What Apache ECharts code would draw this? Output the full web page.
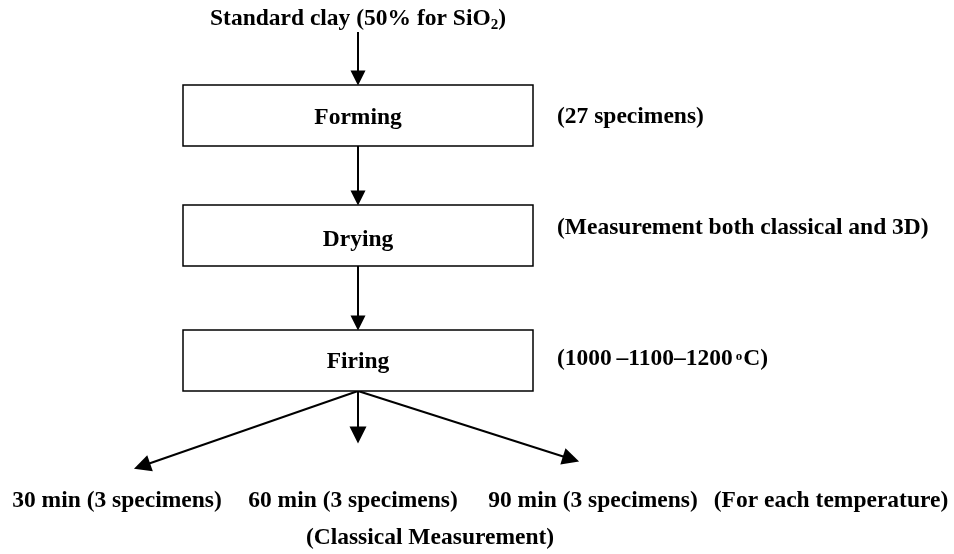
<!DOCTYPE html>
<html>
<head>
<meta charset="utf-8">
<script src="https://cdn.jsdelivr.net/npm/echarts@6/dist/echarts.min.js"></script>
<style>
  html, body { margin: 0; padding: 0; background: #fff; }
  #chart { width: 954px; height: 554px; }
</style>
</head>
<body>
<div id="chart"></div>
<script>
// flowchart content
const sourceLabel = "Standard clay (50% for SiO{sub|2})";
const stages = ["Forming", "Drying", "Firing"];
const stageNotes = ["(27 specimens)", "(Measurement both classical and 3D)", "(1000\u2009\u20131100\u20131200{deg|o}C)"];
const outcomes = ["30 min (3 specimens)", "60 min (3 specimens)", "90 min (3 specimens)"];
const outcomeNote = "(For each temperature)";
const footNote = "(Classical Measurement)";

// layout in page pixels (axes span the whole canvas)
const W = 954, H = 554;
const midX = 358;
const boxTop = [85, 205, 330];
const boxW = 350, boxH = 61;
const textY = [118, 240, 362];
const noteX = 557;
const noteY = [117, 228, 359];
const outcomeX = [117, 353, 593, 831];
const outcomeY = 501;
const footY = 538;
const branchTips = [[142, 466], [358, 435], [571, 459]];

const font = { fontFamily: "Liberation Serif", fontWeight: "bold", color: "#000", fontSize: 23.5, opacity: 1 };

const chart = echarts.init(document.getElementById("chart"));

// vertical arrows between stages, then the three branches from the last box
const arrows = [
    { coords: [[midX, 32], [midX, boxTop[0] - 7]] },
    { coords: [[midX, boxTop[0] + boxH], [midX, boxTop[1] - 7]] },
    { coords: [[midX, boxTop[1] + boxH], [midX, boxTop[2] - 7]] },
];
branchTips.forEach((tip) => {
    arrows.push({ coords: [[midX, boxTop[2] + boxH], tip], symbolSize: [15, 17] });
});

const textPoint = (name, x, y, align) => ({
    name,
    value: [x, y],
    label: { align: align || "center" },
});

const texts = [
    textPoint(sourceLabel, midX, 19),
    ...stageNotes.map((t, i) => textPoint(t, noteX, noteY[i], "left")),
    ...outcomes.map((t, i) => textPoint(t, outcomeX[i], outcomeY)),
    textPoint(outcomeNote, outcomeX[3], outcomeY),
    textPoint(footNote, 430, footY),
];

const option = {
    animation: false,
    backgroundColor: "#fff",
    grid: { left: 0, right: 0, top: 0, bottom: 0 },
    xAxis: { type: "value", min: 0, max: W, show: false },
    yAxis: { type: "value", min: 0, max: H, inverse: true, show: false },
    series: [
        {
            type: "lines",
            coordinateSystem: "cartesian2d",
            symbol: ["none", "triangle"],
            symbolSize: [13, 15],
            lineStyle: { color: "#000", width: 2, opacity: 1 },
            data: arrows,
            z: 1,
        },
        {
            type: "custom",
            data: stages.map((s, i) => [midX, boxTop[i], textY[i]]),
            renderItem: (params, api) => {
                const tl = api.coord([api.value(0) - boxW / 2, api.value(1)]);
                const br = api.coord([api.value(0) + boxW / 2, api.value(1) + boxH]);
                const c = api.coord([api.value(0), api.value(2)]);
                return {
                    type: "group",
                    children: [
                        {
                            type: "rect",
                            shape: { x: tl[0], y: tl[1], width: br[0] - tl[0], height: br[1] - tl[1] },
                            style: { fill: "#fff", stroke: "#000", lineWidth: 1.5 },
                        },
                        {
                            type: "text",
                            x: c[0],
                            y: c[1],
                            style: {
                                text: stages[params.dataIndex],
                                align: "center",
                                verticalAlign: "middle",
                                fill: "#000",
                                font: "bold 23.5px 'Liberation Serif'",
                            },
                        },
                    ],
                };
            },
            z: 2,
        },
        {
            type: "scatter",
            symbolSize: 0,
            label: {
                show: true,
                position: "inside",
                verticalAlign: "middle",
                formatter: "{b}",
                ...font,
                rich: {
                    sub: { ...font, fontSize: 15, padding: [12, 0, 0, 0] },
                    deg: { ...font, fontSize: 13, padding: [0, 1, 4, 3] },
                },
            },
            data: texts,
            z: 3,
        },
    ],
};

chart.setOption(option);
</script>
</body>
</html>
